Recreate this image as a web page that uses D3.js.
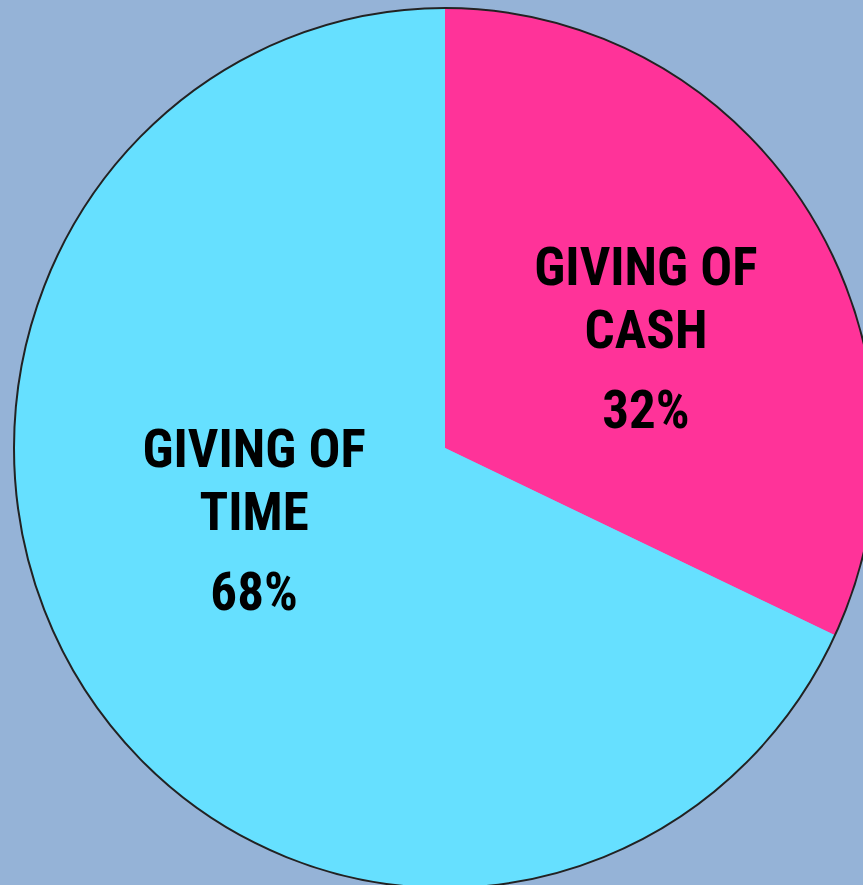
<!DOCTYPE html>
<html><head><meta charset="utf-8">
<script src="https://cdn.jsdelivr.net/npm/d3@7"></script>
<style>html,body{margin:0;padding:0;background:#95B3D7;overflow:hidden}</style>
</head><body>
<svg id="c" width="863" height="885"></svg>
<script>
const categories = ["GIVING OF CASH", "GIVING OF TIME"];
const labelLines = [["GIVING OF", "CASH"], ["GIVING OF", "TIME"]];
const values = [32, 68];
const colors = ["#FF3399", "#66E0FF"];

const svg = d3.select("#c");
const cx = 445, cy = 448, rx = 431, ry = 440;
const g = svg.append("g").attr("transform", `translate(${cx},${cy}) scale(${rx/ry},1)`);
const pie = d3.pie().sort(null).value(d => d)(values);
const arc = d3.arc().innerRadius(0).outerRadius(ry);
g.selectAll("path").data(pie).enter().append("path")
  .attr("d", arc).attr("fill", (d, i) => colors[i]);
g.append("ellipse").attr("rx", ry).attr("ry", ry).attr("fill", "none")
  .attr("stroke", "#222").attr("stroke-width", 2).attr("vector-effect", "non-scaling-stroke");

const labelArc = d3.arc().innerRadius(0).outerRadius(ry);
const nudge = [[19, 18], [-9, -36]];
const font = "'Liberation Sans Narrow','Arial Narrow','Roboto Condensed','Liberation Sans',sans-serif";
const lg = svg.append("g").attr("transform", `translate(${cx},${cy})`);
pie.forEach((d, i) => {
  const [x, y] = labelArc.centroid(d);
  const px = x * rx / ry + nudge[i][0];
  const py = y + nudge[i][1];
  const t = lg.append("text").attr("text-anchor", "middle")
    .attr("font-family", font).attr("font-weight", "bold").attr("font-size", 53)
    .attr("fill", "#000");
  const lines = labelLines[i].concat([values[i] + "%"]);
  const baseY = [-63, 0, 80];
  lines.forEach((s, j) => {
    t.append("tspan").attr("x", px).attr("y", py + baseY[j]).text(s);
  });
});
</script>
</body></html>
